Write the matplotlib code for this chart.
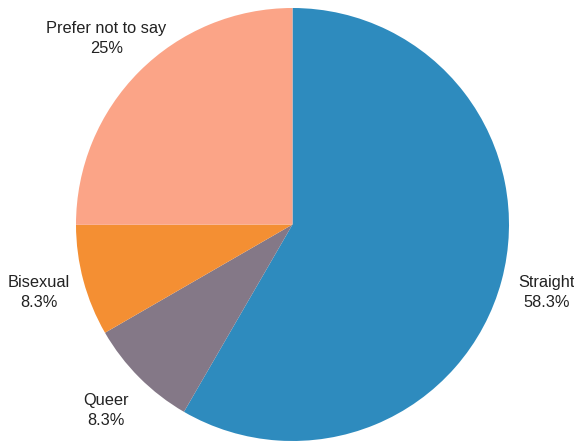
import numpy as np
import matplotlib
matplotlib.use("Agg")
import matplotlib.pyplot as plt

# Survey responses, drawn clockwise from the top
categories = ["Straight", "Queer", "Bisexual", "Prefer not to say"]
shares = [58.3, 8.3, 8.3, 25]
pct_labels = ["58.3%", "8.3%", "8.3%", "25%"]
colors = ["#2E8BBE", "#847887", "#F48F33", "#FBA487"]

fig = plt.figure(figsize=(5.74, 4.41), dpi=100)
ax = fig.add_axes([0, 0, 1, 1])

center = (292.5, 216.5)
radius = 216.5
wedges, _ = ax.pie(shares, colors=colors, startangle=90, counterclock=False,
                   center=center, radius=radius, frame=True,
                   wedgeprops=dict(linewidth=0))
ax.set_xlim(0, 574)
ax.set_ylim(0, 441)
ax.axis("off")

# labels sit just outside each wedge, at the middle angle
for w, name, pct in zip(wedges, categories, pct_labels):
    ang = np.deg2rad((w.theta1 + w.theta2) / 2)
    x = center[0] + 1.215 * radius * np.cos(ang)
    y = center[1] + 1.215 * radius * np.sin(ang)
    ax.text(x, y, f"{name}\n{pct}", ha="center", va="center",
            fontsize=11.8, family="Liberation Sans", color="#222222",
            linespacing=1.4)

fig.savefig("out.png", dpi=100)
